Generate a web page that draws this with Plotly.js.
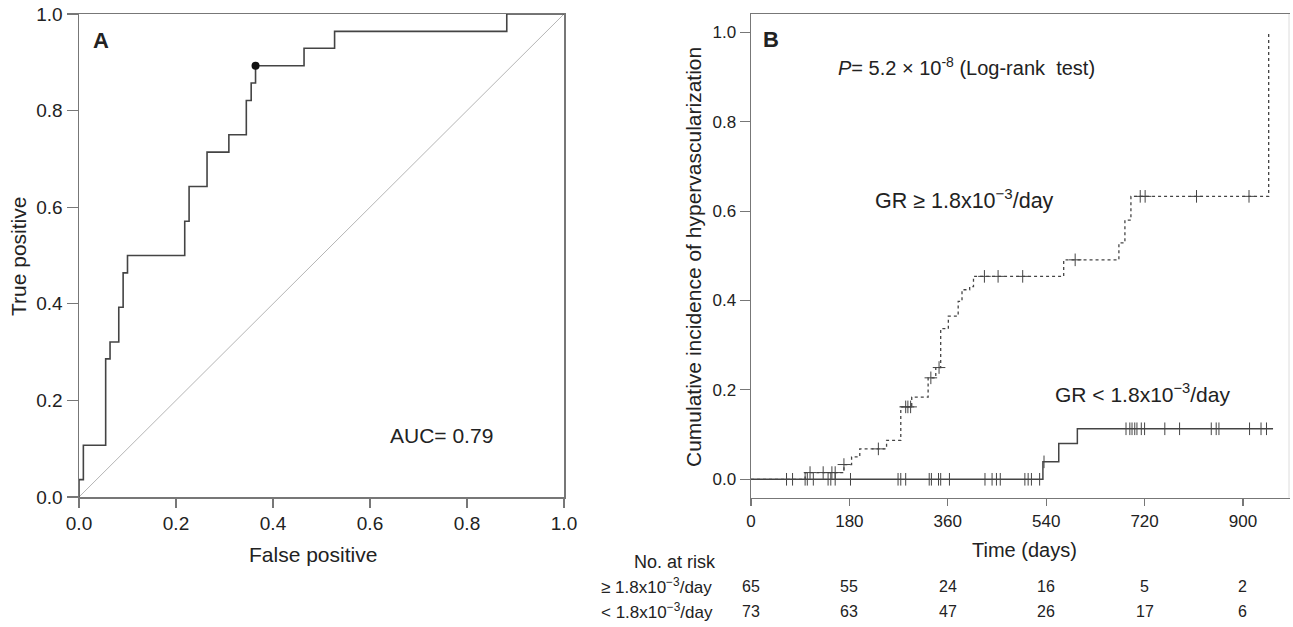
<!DOCTYPE html>
<html>
<head>
<meta charset="utf-8">
<script src="https://cdn.plot.ly/plotly-3.0.1.min.js"></script>
<style>html,body{margin:0;padding:0;background:#fff;}#chart{width:1293px;height:627px;}</style>
</head>
<body>
<div id="chart"></div>
<script>
// ---------- Panel A: ROC curve ----------
const rocFPR = [0, 0, 0.009, 0.055, 0.064, 0.082, 0.091, 0.100, 0.218, 0.227, 0.264, 0.309, 0.345, 0.355, 0.364, 0.464, 0.527, 0.882, 1.0];
const rocTPR = [0, 0.036, 0.107, 0.286, 0.321, 0.393, 0.464, 0.500, 0.571, 0.643, 0.714, 0.750, 0.821, 0.857, 0.893, 0.929, 0.964, 1.0, 1.0];
const cutoffFPR = [0.364];
const cutoffTPR = [0.893];
const diagX = [0, 1];
const diagY = [0, 1];
const rocTicks = [0, 0.2, 0.4, 0.6, 0.8, 1.0];
const rocTickText = ['0.0', '0.2', '0.4', '0.6', '0.8', '1.0'];
const aucText = 'AUC= 0.79';

// ---------- Panel B: cumulative incidence ----------
const highDays = [0, 99, 170, 184, 199, 248, 274, 294, 324, 338, 347, 361, 379, 386, 400, 407, 572, 673, 684, 695, 947];
const highInc  = [0, 0.015, 0.033, 0.050, 0.068, 0.087, 0.162, 0.184, 0.227, 0.250, 0.337, 0.365, 0.398, 0.424, 0.431, 0.454, 0.491, 0.529, 0.580, 0.633, 1.0];
const highCensorDays = [108, 132, 148, 154, 170, 233, 283, 287, 292, 329, 344, 427, 452, 497, 593, 712, 721, 815, 911];

const lowDays = [0, 534, 563, 597, 955];
const lowInc  = [0, 0.039, 0.080, 0.113, 0.113];
const lowCensorDays = [65, 76, 99, 103, 114, 141, 146, 154, 182, 269, 274, 283, 326, 330, 343, 347, 363, 428, 441, 449, 456, 501, 507, 513, 528, 536,
                       686, 693, 697, 702, 706, 714, 720, 757, 784, 842, 851, 856, 912, 933, 943];

const kmXTicks = [0, 180, 360, 540, 720, 900];
const kmYTicks = [0, 0.2, 0.4, 0.6, 0.8, 1.0];
const kmYTickText = ['0.0', '0.2', '0.4', '0.6', '0.8', '1.0'];

const riskTimes = [0, 180, 360, 540, 720, 900];
const riskHigh = [65, 55, 24, 16, 5, 2];
const riskLow  = [73, 63, 47, 26, 17, 6];
const riskHighLabel = '≥ 1.8x10<sup>−3</sup>/day';
const riskLowLabel  = '< 1.8x10<sup>−3</sup>/day';

// value of a step curve at time t
function stepValue(days, vals, t) {
  let v = vals[0];
  for (let i = 0; i < days.length; i++) { if (days[i] <= t) v = vals[i]; }
  return v;
}

const FONT = 'Liberation Sans, Arial, Helvetica, sans-serif';
const TXT = '#222';
const AX = '#777';
const LINE = '#444';
const PX = x => x / 1293;
const PY = y => 1 - y / 627;

const traces = [
  { x: diagX, y: diagY, xaxis: 'x', yaxis: 'y', mode: 'lines', line: { color: '#b5b5b5', width: 1 }, hoverinfo: 'skip' },
  { x: rocFPR, y: rocTPR, xaxis: 'x', yaxis: 'y', mode: 'lines', line: { color: LINE, width: 1.6, shape: 'hv' } },
  { x: cutoffFPR, y: cutoffTPR, xaxis: 'x', yaxis: 'y', mode: 'markers', marker: { color: '#111', size: 8 } },

  { x: highDays, y: highInc, xaxis: 'x2', yaxis: 'y2', mode: 'lines', line: { color: LINE, width: 1.3, dash: '3px,3px', shape: 'hv' } },
  { x: highCensorDays, y: highCensorDays.map(t => stepValue(highDays, highInc, t)), xaxis: 'x2', yaxis: 'y2', mode: 'markers',
    marker: { symbol: 'cross-thin', size: 9, line: { color: LINE, width: 1 } } },
  { x: lowDays, y: lowInc, xaxis: 'x2', yaxis: 'y2', mode: 'lines', line: { color: LINE, width: 1.5, shape: 'hv' } },
  { x: lowCensorDays, y: lowCensorDays.map(t => stepValue(lowDays, lowInc, t)), xaxis: 'x2', yaxis: 'y2', mode: 'markers',
    marker: { symbol: 'line-ns', size: 9, line: { color: LINE, width: 1 } } }
];

const ann = [];
function addText(text, x, y, size, opts) {
  ann.push(Object.assign({ text: text, x: PX(x), y: PY(y), xref: 'paper', yref: 'paper', showarrow: false,
    font: { family: FONT, size: size, color: TXT }, xanchor: 'center', yanchor: 'middle' }, opts || {}));
}
// Panel A texts
addText('<b>A</b>', 100.5, 40.5, 22);
addText(aucText, 441, 435, 21);
addText('True positive', 18, 257, 21, { textangle: -90 });
addText('False positive', 313, 554, 21);
// Panel B texts
addText('<b>B</b>', 770.5, 39.5, 22);
addText('<i>P</i>= 5.2 × 10<sup>-8</sup> (Log-rank  test)', 836, 66, 20, { xanchor: 'left' });
addText('GR ≥ 1.8x10<sup>−3</sup>/day', 873, 199, 21.5, { xanchor: 'left' });
addText('GR < 1.8x10<sup>−3</sup>/day', 1053, 393, 21, { xanchor: 'left' });
addText('Cumulative incidence of hypervascularization', 693, 257, 21, { textangle: -90 });
addText('Time (days)', 1024, 550, 20);
// Risk table
addText('No. at risk', 675, 562, 18);
addText(riskHighLabel, 599, 586, 17, { xanchor: 'left' });
addText(riskLowLabel, 599, 611, 17, { xanchor: 'left' });
riskTimes.forEach((t, i) => {
  ann.push({ text: String(riskHigh[i]), x: t, xref: 'x2', y: PY(586), yref: 'paper', showarrow: false,
    font: { family: FONT, size: 16, color: TXT }, xanchor: 'center', yanchor: 'middle' });
  ann.push({ text: String(riskLow[i]), x: t, xref: 'x2', y: PY(611), yref: 'paper', showarrow: false,
    font: { family: FONT, size: 16, color: TXT }, xanchor: 'center', yanchor: 'middle' });
});

const axBase = { showgrid: false, zeroline: false, showline: true, linecolor: AX, linewidth: 1.5,
  ticks: 'outside', tickcolor: AX, tickwidth: 1.2, fixedrange: true };

const layout = {
  width: 1293, height: 627,
  margin: { l: 0, r: 0, t: 0, b: 0 },
  paper_bgcolor: '#fff', plot_bgcolor: '#fff',
  showlegend: false,
  font: { family: FONT, color: TXT },
  xaxis: Object.assign({}, axBase, { domain: [PX(79), PX(564)], range: [0, 1], anchor: 'y', mirror: true,
    tickvals: rocTicks, ticktext: rocTickText, ticklen: 9, tickfont: { family: FONT, size: 19, color: TXT } }),
  yaxis: Object.assign({}, axBase, { domain: [PY(497), PY(14)], range: [0, 1], anchor: 'x', mirror: true,
    tickvals: rocTicks, ticktext: rocTickText, ticklen: 11, tickfont: { family: FONT, size: 19, color: TXT } }),
  xaxis2: Object.assign({}, axBase, { domain: [PX(751), PX(1290)], range: [0, 986], anchor: 'y2', mirror: true,
    tickvals: kmXTicks, ticklen: 7, tickfont: { family: FONT, size: 17, color: TXT } }),
  yaxis2: Object.assign({}, axBase, { domain: [PY(497.7), PY(14)], range: [-0.0412, 1.041], anchor: 'x2',
    tickvals: kmYTicks, ticktext: kmYTickText, ticklen: 10, tickfont: { family: FONT, size: 17, color: TXT } }),
  shapes: [
    { type: 'line', xref: 'paper', yref: 'paper', x0: PX(1289), x1: PX(1289), y0: PY(497.7), y1: PY(14),
      line: { color: '#dcdcdc', width: 1 } }
  ],
  annotations: ann
};

Plotly.newPlot('chart', traces, layout, { staticPlot: true, displayModeBar: false });
</script>
</body>
</html>
